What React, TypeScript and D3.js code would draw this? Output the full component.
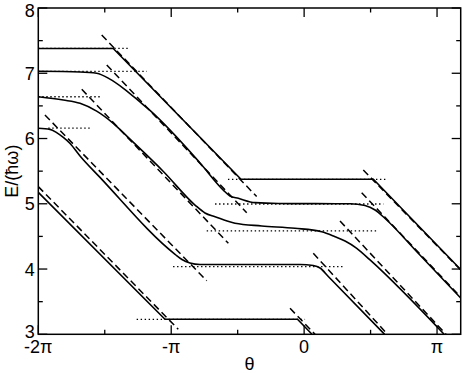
import * as d3 from "d3";
import { useEffect, useRef } from "react";

// theta is stored in units of pi, energy in units of hbar*omega
const adiabat1: [number, number][] = [
    [-2.0, 7.38], [-1.436, 7.38], [-0.475, 5.375], [0.521, 5.375], [1.178, 3.993],
];
const adiabat2: [number, number][] = [
    [-2.0, 7.03], [-1.686, 7.02], [-1.561, 7.0], [-1.461, 6.91], [-1.36, 6.77],
    [-1.235, 6.56], [-1.16, 6.43], [-0.783, 5.625], [-0.608, 5.21], [-0.558, 5.12],
    [-0.495, 5.084], [-0.369, 5.017], [-0.194, 5.004], [0.345, 5.0], [0.458, 4.974],
    [0.534, 4.905], [0.609, 4.774], [0.871, 4.215], [1.178, 3.556],
];
const adiabat3: [number, number][] = [
    [-2.0, 6.64], [-1.812, 6.59], [-1.686, 6.54], [-1.561, 6.42], [-1.436, 6.233],
    [-1.31, 5.99], [-1.059, 5.495], [-0.821, 4.981], [-0.746, 4.859], [-0.67, 4.802],
    [-0.52, 4.701], [-0.319, 4.66], [-0.069, 4.624], [0.132, 4.572], [0.233, 4.496],
    [0.308, 4.43], [0.396, 4.318], [0.496, 4.139], [1.053, 3.0],
];
const adiabat4: [number, number][] = [
    [-2.0, 6.157], [-1.912, 6.14], [-1.862, 6.09], [-1.812, 6.016], [-1.761, 5.924],
    [-1.686, 5.732], [-1.536, 5.404], [-0.971, 4.226], [-0.919, 4.146], [-0.859, 4.093],
    [-0.783, 4.07], [-0.5, 4.07], [-0.03, 4.07], [0.069, 4.054], [0.12, 4.016],
    [0.182, 3.886], [0.6055, 3.0],
];
const adiabat5: [number, number][] = [
    [-2.0, 5.176], [-1.047, 3.23], [-0.05, 3.23], [0.059, 3.0],
];

// dashed diabatic lines: [theta start, E start, theta end, E end]
const diabatLeft: number[][] = [
    [-1.523, 7.586, -0.357, 5.11],
    [-1.485, 7.127, -0.432, 4.863],
    [-1.673, 6.754, -0.57, 4.394],
    [-1.95, 6.36, -0.733, 3.821],
    [-2.0, 5.263, -0.947, 3.077],
];
const diabatRight: number[][] = [
    [0.445, 5.518, 1.178, 3.985],
    [0.433, 5.17, 1.178, 3.572],
    [0.27, 4.736, 1.068, 3.0],
    [0.069, 4.241, 0.628, 3.0],
    [-0.106, 3.398, 0.082, 3.0],
];

// dotted flat levels: [E, theta from, theta to]
const flatLevels: number[][] = [
    [7.38, -2.0, -1.31],
    [7.03, -2.0, -1.184],
    [6.64, -2.0, -1.523],
    [6.16, -1.925, -1.611],
    [5.375, -0.573, 0.622],
    [4.997, -0.67, 0.596],
    [4.585, -0.733, 0.546],
    [4.036, -0.986, 0.295],
    [3.23, -1.26, 0.007],
];

const xMajor = [-2, -1, 0, 1];
const xLabels = ["-2π", "-π", "0", "π"];
const xMinor = [-1.5, -0.5, 0.5];
const yMajor = [3, 4, 5, 6, 7, 8];
const yMinor = [3.5, 4.5, 5.5, 6.5, 7.5];

export default function App() {
    const svgRef = useRef<SVGSVGElement>(null);

    useEffect(() => {
        const svg = d3.select(svgRef.current);
        svg.selectAll("*").remove();

        const width = 463;
        const height = 373;
        const margin = { top: 8, right: 2.3, bottom: 38.7, left: 38.3 };
        const font = "'Liberation Sans', Arial, Helvetica, sans-serif";

        const x = d3.scaleLinear()
            .domain([-2, 1.178])
            .range([margin.left, width - margin.right]);
        const y = d3.scaleLinear()
            .domain([3, 8])
            .range([height - margin.bottom, margin.top]);

        const [x0, x1] = x.range();
        const [y0, y1] = y.range();

        svg.append("defs").append("clipPath")
            .attr("id", "plot-clip")
            .append("rect")
            .attr("x", x0).attr("y", y1)
            .attr("width", x1 - x0).attr("height", y0 - y1);

        const plot = svg.append("g").attr("clip-path", "url(#plot-clip)");

        // dotted levels
        plot.selectAll(".level")
            .data(flatLevels)
            .enter()
            .append("line")
            .attr("x1", d => x(d[1]))
            .attr("x2", d => x(d[2]))
            .attr("y1", d => y(d[0]))
            .attr("y2", d => y(d[0]))
            .attr("stroke", "#000")
            .attr("stroke-width", 1.3)
            .attr("stroke-dasharray", "1.4 2.6");

        // dashed lines
        plot.selectAll(".diabat")
            .data([...diabatLeft, ...diabatRight])
            .enter()
            .append("line")
            .attr("x1", d => x(d[0]))
            .attr("y1", d => y(d[1]))
            .attr("x2", d => x(d[2]))
            .attr("y2", d => y(d[3]))
            .attr("stroke", "#000")
            .attr("stroke-width", 1.5)
            .attr("stroke-dasharray", "7 4");

        // solid curves
        const smooth = d3.line<[number, number]>()
            .x(d => x(d[0]))
            .y(d => y(d[1]))
            .curve(d3.curveMonotoneX);
        const straight = d3.line<[number, number]>()
            .x(d => x(d[0]))
            .y(d => y(d[1]));

        [adiabat1, adiabat5].forEach(pts => {
            plot.append("path")
                .datum(pts)
                .attr("fill", "none")
                .attr("stroke", "#000")
                .attr("stroke-width", 1.6)
                .attr("d", straight);
        });
        [adiabat2, adiabat3, adiabat4].forEach(pts => {
            plot.append("path")
                .datum(pts)
                .attr("fill", "none")
                .attr("stroke", "#000")
                .attr("stroke-width", 1.6)
                .attr("d", smooth);
        });

        // frame
        svg.append("rect")
            .attr("x", x0).attr("y", y1)
            .attr("width", x1 - x0).attr("height", y0 - y1)
            .attr("fill", "none")
            .attr("stroke", "#000")
            .attr("stroke-width", 1.5);

        // ticks, all pointing inward
        const ticks = svg.append("g").attr("stroke", "#000").attr("stroke-width", 1.3);
        const xt = [...xMajor.map(v => ({ v, len: 9 })), ...xMinor.map(v => ({ v, len: 4.5 }))];
        const yt = [...yMajor.map(v => ({ v, len: 9 })), ...yMinor.map(v => ({ v, len: 4.5 }))];

        xt.forEach(t => {
            ticks.append("line").attr("x1", x(t.v)).attr("x2", x(t.v)).attr("y1", y0).attr("y2", y0 - t.len);
            ticks.append("line").attr("x1", x(t.v)).attr("x2", x(t.v)).attr("y1", y1).attr("y2", y1 + t.len);
        });
        yt.forEach(t => {
            ticks.append("line").attr("y1", y(t.v)).attr("y2", y(t.v)).attr("x1", x0).attr("x2", x0 + t.len);
            ticks.append("line").attr("y1", y(t.v)).attr("y2", y(t.v)).attr("x1", x1).attr("x2", x1 - t.len);
        });

        // tick labels
        svg.selectAll(".xlab")
            .data(xMajor)
            .enter()
            .append("text")
            .attr("x", d => x(d))
            .attr("y", y0 + 19)
            .attr("text-anchor", "middle")
            .attr("font-family", font)
            .attr("font-size", 18)
            .text((d, i) => xLabels[i]);

        // end labels nudged inward, as in the original
        svg.selectAll(".ylab")
            .data(yMajor)
            .enter()
            .append("text")
            .attr("x", x0 - 3.5)
            .attr("y", d => y(d) + (d === 8 ? 3 : d === 3 ? -3 : 0))
            .attr("dy", "0.36em")
            .attr("text-anchor", "end")
            .attr("font-family", font)
            .attr("font-size", 18)
            .text(d => d);

        // axis titles
        svg.append("text")
            .attr("x", (x0 + x1) / 2)
            .attr("y", 370)
            .attr("text-anchor", "middle")
            .attr("font-family", font)
            .attr("font-size", 18)
            .text("θ");

        svg.append("text")
            .attr("transform", `translate(18,${(y0 + y1) / 2}) rotate(-90)`)
            .attr("text-anchor", "middle")
            .attr("font-family", font)
            .attr("font-size", 18)
            .text("E/(ħω)");
    }, []);

    return (
        <div style={{ position: "absolute", left: 0, top: 0 }}>
            <svg ref={svgRef} width={463} height={373} style={{ display: "block", background: "#fff" }} />
        </div>
    );
}
